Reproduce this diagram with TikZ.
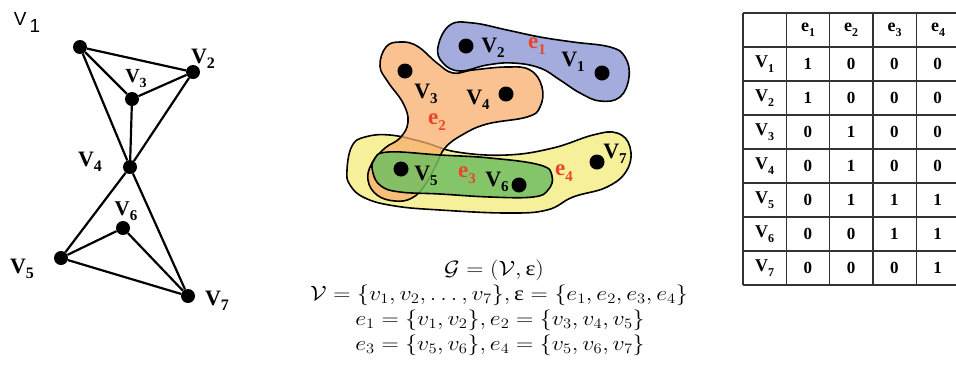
\documentclass[tikz,border=0pt]{standalone}
\usepackage[no-math]{fontspec}
\usepackage{graphicx}
\setmainfont{Liberation Serif}
\newfontfamily\lsans{Liberation Sans}
\usetikzlibrary{calc}
\definecolor{hblue}{HTML}{A3ACDC}
\definecolor{horange}{HTML}{F7AE6C}
\definecolor{hyellow}{HTML}{F6F09A}
\definecolor{hgreen}{HTML}{72BE62}
\definecolor{hred}{HTML}{E8452B}
\definecolor{tline}{HTML}{333333}
\newcommand{\Vlab}[3]{{\fontsize{#1pt}{#1pt}\selectfont\bfseries V\raisebox{-0.25em}{\fontsize{#2pt}{#2pt}\selectfont #3}}}
\newcommand{\Elab}[3]{{\fontsize{#1pt}{#1pt}\selectfont\bfseries e\raisebox{-0.25em}{\fontsize{#2pt}{#2pt}\selectfont #3}}}
\newcommand{\fml}[1]{\scalebox{1.15}[1]{$#1$}}
\tikzset{
  gdot/.style={circle,fill=black,inner sep=0pt,minimum size=14pt},
  hdot/.style={circle,fill=black,inner sep=0pt,minimum size=15pt},
  gedge/.style={line width=2.2pt},
  hedge/.style={line width=1.6pt,draw=black},
  lab/.style={inner sep=0pt},
  formula/.style={inner sep=0pt,font=\fontsize{20.5pt}{20.5pt}\selectfont},
  tcell/.style={inner sep=0pt,font=\fontsize{17pt}{17pt}\selectfont\bfseries}
}
\begin{document}
\begin{tikzpicture}[x=1pt,y=-1pt]
\clip (0,0) rectangle (956,384);
\fill[white] (0,0) rectangle (956,384);

% ---------- left graph ----------
\node[lab] (t1) at (27,22) {\lsans\fontsize{19pt}{19pt}\selectfont V\,\raisebox{-7pt}{1}};
\node[gdot] (a) at (80,47) {};
\node[gdot] (b) at (193,72) {};
\node[gdot] (c) at (132,99) {};
\node[gdot] (d) at (130,167) {};
\node[gdot] (f) at (123,228) {};
\node[gdot] (e) at (61,258) {};
\node[gdot] (g) at (188,296) {};
\foreach \p/\q in {a/b,a/c,a/d,c/b,c/d,b/d,d/e,d/g,e/f,f/g,e/g}
  \draw[gedge] (\p) -- (\q);
\node[lab] (lb) at (203,59) {\Vlab{22}{16}{2}};
\node[lab] (lc) at (136,79) {\Vlab{20}{14}{3}};
\node[lab] (ld) at (90,162) {\Vlab{22}{16}{4}};
\node[lab] (lf) at (126,211) {\Vlab{21}{15}{6}};
\node[lab] (le) at (22,269) {\Vlab{22}{16}{5}};
\node[lab] (lg) at (217,301) {\Vlab{22}{16}{7}};

% ---------- hypergraph ----------
\draw[hedge,fill=hblue] plot[smooth cycle,tension=0.7] coordinates {
 (438,47) (450,25) (473,23) (507,30) (540,37) (573,42) (610,47) (625,57) (629,77)
 (620,97) (600,101) (580,93) (560,80) (540,68) (513,63) (487,65) (460,71) (443,63)};
\draw[hedge,fill=hyellow] plot[smooth cycle,tension=0.7] coordinates {
 (347,170) (352,146) (365,137) (390,135) (423,142) (457,152) (507,155) (553,148)
 (593,135) (617,133) (630,147) (627,170) (607,187) (573,197) (547,210) (507,213)
 (440,210) (395,206) (365,198) (350,185)};
\draw[hedge,fill=horange,fill opacity=0.75] plot[smooth cycle,tension=0.7] coordinates {
 (380,66) (386,47) (400,42) (417,46) (437,63) (453,73) (473,70) (507,67) (530,70)
 (542,87) (540,107) (527,117) (487,124) (462,135) (445,148) (436,165) (425,185)
 (412,198) (395,201) (377,195) (368,180) (372,163) (385,148) (400,138) (408,122)
 (403,103) (388,82)};
\draw[hedge,fill=hgreen,fill opacity=0.85] plot[smooth cycle,tension=0.7] coordinates {
 (374,160) (388,152) (440,155) (490,158) (540,165) (552,176) (548,190) (533,197)
 (490,197) (440,194) (400,192) (381,186) (373,173)};

\node[hdot] (h2) at (466,46) {};
\node[hdot] (h1) at (602,73) {};
\node[hdot] (h3) at (405,71) {};
\node[hdot] (h4) at (506,94) {};
\node[hdot] (h5) at (401,169) {};
\node[hdot] (h6) at (519,185) {};
\node[hdot] (h7) at (597,162) {};
\node[lab] (hl2) at (493,48) {\Vlab{22}{15}{2}};
\node[lab,text=hred] (he1) at (537,46) {\Elab{23}{15}{1}};
\node[lab] (hl1) at (573,62) {\Vlab{22}{15}{1}};
\node[lab] (hl3) at (426,94) {\Vlab{22}{15}{3}};
\node[lab] (hl4) at (478,100) {\Vlab{22}{15}{4}};
\node[lab,text=hred] (he2) at (437,122) {\Elab{23}{15}{2}};
\node[lab] (hl5) at (426,176) {\Vlab{22}{15}{5}};
\node[lab,text=hred] (he3) at (467,175) {\Elab{23}{15}{3}};
\node[lab] (hl6) at (497,182) {\Vlab{22}{15}{6}};
\node[lab,text=hred] (he4) at (564,173) {\Elab{23}{15}{4}};
\node[lab] (hl7) at (615,154) {\Vlab{22}{15}{7}};

% ---------- formulas ----------
\node[formula] (f1) at (494,270) {\fml{\mathcal{G} = (\mathcal{V},\mbox{ε})}};
\node[formula] (f2) at (499,295) {\fml{\mathcal{V} = \{v_1, v_2, \ldots, v_7\}, \mbox{ε} = \{e_1, e_2, e_3, e_4\}}};
\node[formula] (f3) at (500,320) {\fml{e_1 = \{v_1, v_2\}, e_2 = \{v_3, v_4, v_5\}}};
\node[formula] (f4) at (500,345) {\fml{e_3 = \{v_5, v_6\}, e_4 = \{v_5, v_6, v_7\}}};

% ---------- table ----------
\foreach \i in {0,...,8}
  \draw[tline,line width=1.4pt] (743,13+34*\i) -- (962,13+34*\i);
\foreach \x in {743,786.3,829.6,872.9,916.2,959.5}
  \draw[tline,line width=1.4pt] (\x,13) -- (\x,285);
\foreach \k/\x in {1/808,2/851,3/894.5,4/938}
  \node[lab] (th\k) at (\x,30) {\Elab{18}{12}{\k}};
\foreach \r/\vals [count=\n] in {1/{1,0,0,0},2/{1,0,0,0},3/{0,1,0,0},4/{0,1,0,0},5/{0,1,1,1},6/{0,0,1,1},7/{0,0,0,1}} {
  \node[lab] (tr\r) at (764.5,30+34*\n) {\Vlab{18}{12}{\r}};
  \foreach \v [count=\c] in \vals
    \node[tcell] (tc\r\c) at (764.5+43.3*\c,30+34*\n) {\v};
}
\end{tikzpicture}
\end{document}
